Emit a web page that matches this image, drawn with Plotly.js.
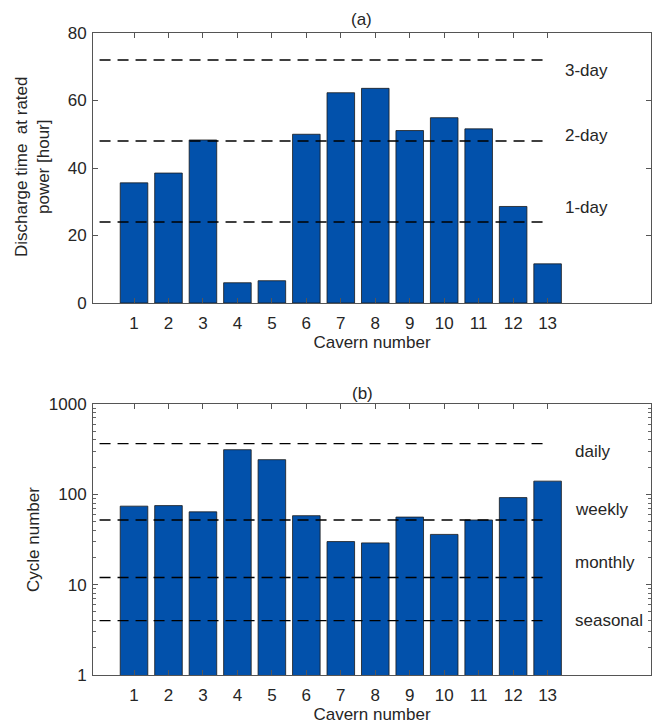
<!DOCTYPE html>
<html>
<head>
<meta charset="utf-8">
<script src="https://cdn.plot.ly/plotly-3.0.1.min.js"></script>
<style>html,body{margin:0;padding:0;background:#fff;}#chart{width:660px;height:727px;}</style>
</head>
<body>
<div id="chart"></div>
<script>
// ---- data ----
const caverns = [1,2,3,4,5,6,7,8,9,10,11,12,13];
const dischargeHours = [35.6,38.5,48.3,6.0,6.6,50.0,62.3,63.6,51.1,54.9,51.6,28.6,11.6];
const cycleNumbers = [74,75,64,312,242,58,30,29,56,36,52,92,140];
const durationLevels = [72,48,24];
const durationLabels = ['3-day','2-day','1-day'];
const durationLabelY = [69,49.5,28.2];
const cycleLevels = [365,52,12,4];
const cycleLabels = ['daily','weekly','monthly','seasonal'];
const cycleLabelY = [297,68,17.5,4];
const refLineX = [0,13];
const logMinorTicks = [2,3,4,5,6,7,8,9,20,30,40,50,60,70,80,90,200,300,400,500,600,700,800,900];

// ---- styling ----
const barColor = '#0251ab';
const txt = '#262626';
const font = {family: 'Liberation Sans, Arial, sans-serif', size: 17, color: txt};

const traces = [];
traces.push({type:'bar', x:caverns, y:dischargeHours, width:0.8, xaxis:'x', yaxis:'y',
  marker:{color:barColor, line:{color:'#1a1a1a', width:0.8}}, hoverinfo:'skip'});
durationLevels.forEach(v => traces.push({type:'scatter', mode:'lines', x:refLineX, y:[v,v], xaxis:'x', yaxis:'y',
  line:{color:'#000', width:1.3, dash:'11px,7px'}, hoverinfo:'skip'}));
traces.push({type:'bar', x:caverns, y:cycleNumbers, width:0.8, xaxis:'x2', yaxis:'y2',
  marker:{color:barColor, line:{color:'#1a1a1a', width:0.8}}, hoverinfo:'skip'});
cycleLevels.forEach(v => traces.push({type:'scatter', mode:'lines', x:refLineX, y:[v,v], xaxis:'x2', yaxis:'y2',
  line:{color:'#000', width:1.3, dash:'11px,7px'}, hoverinfo:'skip'}));

const annotations = [];
durationLabels.forEach((t,i) => annotations.push({text:t, x:13.45, y:durationLabelY[i], xref:'x', yref:'y',
  xanchor:'left', yanchor:'middle', showarrow:false, font:font}));
cycleLabels.forEach((t,i) => annotations.push({text:t, x:13.75, y:Math.log10(cycleLabelY[i]), xref:'x2', yref:'y2',
  xanchor:'left', yanchor:'middle', showarrow:false, font:font}));
annotations.push({text:'(a)', x:361/660, y:1-19/727, xref:'paper', yref:'paper', xanchor:'center', yanchor:'middle',
  showarrow:false, font:font});
annotations.push({text:'(b)', x:362/660, y:1-393/727, xref:'paper', yref:'paper', xanchor:'center', yanchor:'middle',
  showarrow:false, font:font});
// y-axis titles
annotations.push({text:'Discharge time\u00a0 at rated<br>power [hour]', x:32/660, y:1-167/727, xref:'paper', yref:'paper',
  xanchor:'center', yanchor:'middle', textangle:-90, showarrow:false, font:font});
annotations.push({text:'Cycle number', x:33/660, y:1-540/727, xref:'paper', yref:'paper',
  xanchor:'center', yanchor:'middle', textangle:-90, showarrow:false, font:font});

const xBase = {
  range:[-0.19,16], tickvals:caverns, ticktext:caverns.map(String), ticks:'inside', ticklen:5,
  tickcolor:'#555', showline:true, linecolor:'#555', linewidth:1, mirror:'ticks',
  showgrid:false, zeroline:false, tickfont:font, fixedrange:true, ticklabelstandoff:5,
  title:{text:'Cavern number', font:font, standoff:2}
};
const layout = {
  width:660, height:727, paper_bgcolor:'#fff', plot_bgcolor:'#fff',
  margin:{l:0,r:0,t:0,b:0}, showlegend:false, bargap:0.2, font:font,
  xaxis:{...xBase, domain:[93/660, 651/660], anchor:'y'},
  yaxis:{domain:[1-303/727, 1-33/727], anchor:'x', range:[0,80], dtick:20, ticks:'inside', ticklen:5,
    tickcolor:'#555', showline:true, linecolor:'#555', linewidth:1, mirror:'ticks', showgrid:false,
    zeroline:false, tickfont:font, fixedrange:true, ticklabelstandoff:2},
  xaxis2:{...xBase, domain:[93/660, 651/660], anchor:'y2'},
  yaxis2:{domain:[1-675/727, 1-404/727], anchor:'x2', type:'log', range:[0,3], dtick:1, ticks:'inside', ticklen:5,
    tickcolor:'#555', showline:true, linecolor:'#555', linewidth:1, mirror:'ticks', showgrid:false,
    zeroline:false, tickfont:font, fixedrange:true, tickformat:'d', ticklabelstandoff:2,
    minor:{tickmode:'array', tickvals:logMinorTicks, ticks:'inside', ticklen:3, tickcolor:'#666', showgrid:false}},
  annotations:annotations
};
Plotly.newPlot('chart', traces, layout, {staticPlot:true, displayModeBar:false});
</script>
</body>
</html>
